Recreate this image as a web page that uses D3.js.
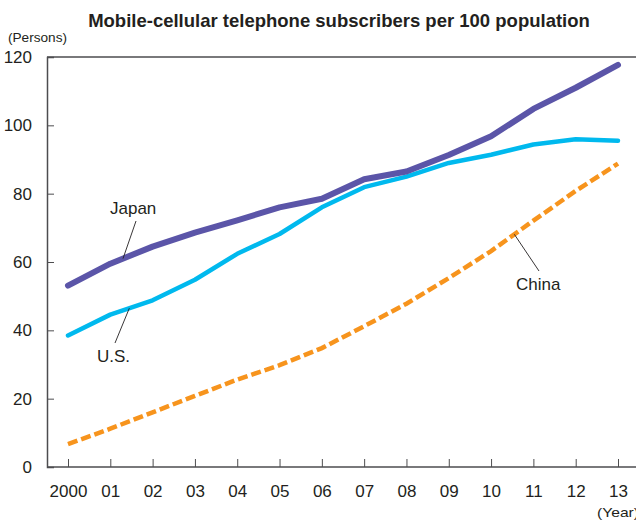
<!DOCTYPE html>
<html>
<head>
<meta charset="utf-8">
<script src="https://cdn.jsdelivr.net/npm/d3@7"></script>
<style>
  html, body { margin: 0; padding: 0; background: #fff; }
  svg { display: block; }
  text { font-family: "Liberation Sans", Arial, Helvetica, sans-serif; fill: #231f20; }
</style>
</head>
<body>
<svg id="chart" width="636" height="520"></svg>
<script>
// Mobile-cellular subscriptions per 100 inhabitants, 2000-2013
const years = [2000, 2001, 2002, 2003, 2004, 2005, 2006, 2007, 2008, 2009, 2010, 2011, 2012, 2013];
const yearLabels = ["2000", "01", "02", "03", "04", "05", "06", "07", "08", "09", "10", "11", "12", "13"];
const japan = [53.1, 59.5, 64.5, 68.6, 72.2, 76.0, 78.5, 84.2, 86.5, 91.3, 96.8, 104.8, 111.0, 117.7];
const us    = [38.5, 44.6, 48.8, 54.8, 62.4, 68.2, 76.0, 81.9, 85.0, 89.0, 91.4, 94.4, 95.9, 95.5];
const china = [6.7, 11.2, 16.0, 20.8, 25.6, 29.8, 34.8, 41.2, 47.8, 55.3, 63.2, 72.1, 80.8, 88.8];
const yTicks = [0, 20, 40, 60, 80, 100, 120];

const svg = d3.select("#chart");
const W = 636;
const frame = { left: 47, top: 57, bottom: 467 };

const x = d3.scaleLinear().domain([2000, 2013]).range([68, 618]);
const y = d3.scaleLinear().domain([0, 120]).range([frame.bottom, frame.top]);

const axisColor = "#4d4d4f";

// Title and unit captions
svg.append("text")
  .attr("x", 339).attr("y", 27)
  .attr("text-anchor", "middle")
  .style("font-size", "18.5px").style("font-weight", "bold")
  .text("Mobile-cellular telephone subscribers per 100 population");

svg.append("text")
  .attr("x", 8).attr("y", 42)
  .style("font-size", "13px")
  .attr("textLength", 59).attr("lengthAdjust", "spacingAndGlyphs")
  .text("(Persons)");

svg.append("text")
  .attr("x", 597).attr("y", 517)
  .style("font-size", "13px")
  .attr("textLength", 42).attr("lengthAdjust", "spacingAndGlyphs")
  .text("(Year)");

// Frame: top rule running off to the right edge
svg.append("line")
  .attr("x1", frame.left).attr("x2", W)
  .attr("y1", frame.top).attr("y2", frame.top)
  .attr("stroke", axisColor).attr("stroke-width", 1.3);

// Y axis with inward ticks
const yAxis = d3.axisLeft(y).tickValues(yTicks).tickSize(-7).tickPadding(15).tickFormat(d3.format("d"));
const gy = svg.append("g").attr("transform", `translate(${frame.left},0)`).call(yAxis);
gy.select(".domain").attr("stroke", axisColor).attr("stroke-width", 1.5);
gy.selectAll(".tick line").attr("stroke", axisColor).attr("stroke-width", 1);
gy.selectAll(".tick text").style("font-size", "17px").attr("fill", "#231f20");

// X axis with upward ticks, baseline extending to the right edge
const xAxis = d3.axisBottom(x).tickValues(years).tickSize(-8).tickPadding(18)
  .tickFormat((d, i) => yearLabels[i]);
const gx = svg.append("g").attr("transform", `translate(0,${frame.bottom})`).call(xAxis);
gx.select(".domain").remove();
gx.append("line").attr("x1", frame.left).attr("x2", W).attr("y1", 0).attr("y2", 0)
  .attr("stroke", axisColor).attr("stroke-width", 1.5);
gx.selectAll(".tick line").attr("stroke", axisColor).attr("stroke-width", 1);
gx.selectAll(".tick text").style("font-size", "17px").attr("fill", "#231f20");

// Series lines
const line = d3.line().x((d, i) => x(years[i])).y(d => y(d));

svg.append("path").datum(china)
  .attr("d", line).attr("fill", "none")
  .attr("stroke", "#f7941d").attr("stroke-width", 4.5)
  .attr("stroke-dasharray", "10,4");

svg.append("path").datum(us)
  .attr("d", line).attr("fill", "none")
  .attr("stroke", "#00b9ee").attr("stroke-width", 4.5)
  .attr("stroke-linejoin", "round").attr("stroke-linecap", "round");

svg.append("path").datum(japan)
  .attr("d", line).attr("fill", "none")
  .attr("stroke", "#5b55a8").attr("stroke-width", 6)
  .attr("stroke-linejoin", "round").attr("stroke-linecap", "round");

// Series labels with leader lines
const labels = [
  { name: "Japan", tx: 110, ty: 214, lx1: 136, ly1: 221, yr: 2001.3, vals: japan },
  { name: "U.S.",  tx: 97,  ty: 362, lx1: 115, ly1: 343, yr: 2001.45, vals: us },
  { name: "China", tx: 516, ty: 290, lx1: 539, ly1: 271, yr: 2010.55, vals: china }
];
labels.forEach(l => {
  const i = Math.floor(l.yr - 2000);
  const t = l.yr - 2000 - i;
  const v = l.vals[i] + (l.vals[i + 1] - l.vals[i]) * t;
  svg.append("line")
    .attr("x1", l.lx1).attr("y1", l.ly1)
    .attr("x2", x(l.yr)).attr("y2", y(v))
    .attr("stroke", "#231f20").attr("stroke-width", 0.9);
  svg.append("text").attr("x", l.tx).attr("y", l.ty)
    .style("font-size", "17px").text(l.name);
});
</script>
</body>
</html>
